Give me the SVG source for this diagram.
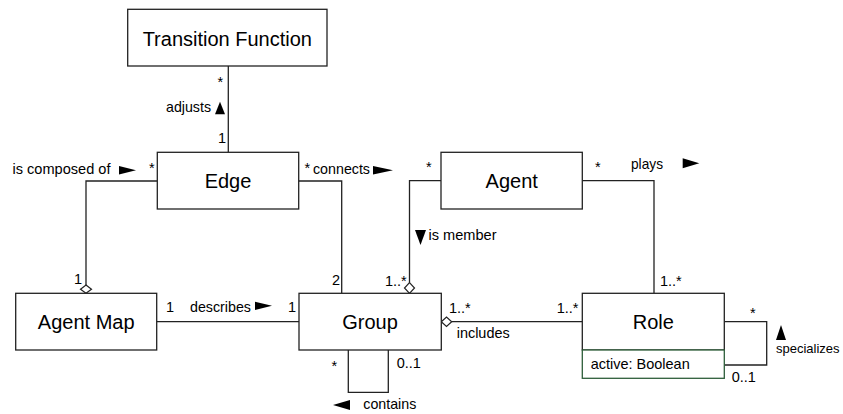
<svg xmlns="http://www.w3.org/2000/svg" width="843" height="414" viewBox="0 0 843 414">
<style>
.box{fill:#fff;stroke:#222;stroke-width:1.3}
.attr{fill:#fff;stroke:#2e5e3a;stroke-width:1.3}
.name{font-family:"Liberation Sans",Arial,sans-serif;font-size:20px;fill:#000;text-anchor:middle}
.lbl{font-family:"Liberation Sans",Arial,sans-serif;font-size:14.5px;fill:#000}
.ln{fill:none;stroke:#222;stroke-width:1.3}
.dia{fill:#fff;stroke:#222;stroke-width:1.2}
.tri{fill:#000}
</style>
<g id="connectors">
  <path class="ln" d="M228.3,66 V152.3"/>
  <path class="ln" d="M157.3,181 H86 V285"/>
  <path class="ln" d="M298.7,181 H341.7 V293.3"/>
  <path class="ln" d="M156.7,321.7 H299"/>
  <path class="ln" d="M441,180.7 H409.5 V282.7"/>
  <path class="ln" d="M582.3,180.7 H654 V293.3"/>
  <path class="ln" d="M451.7,321.7 H582.3"/>
  <path class="ln" d="M348.3,350 V392.3 H388.3 V350"/>
  <path class="ln" d="M724.3,321.7 H766.7 V365 H724.3"/>
  <polygon class="dia" points="86,285 91.5,289.2 86,293.3 80.5,289.2"/>
  <polygon class="dia" points="409.5,282.7 414.5,288 409.5,293.3 404.5,288"/>
  <polygon class="dia" points="441.3,321.7 446.5,317 451.7,321.7 446.5,326.4"/>
  <polygon class="tri" points="215,114.3 225,114.3 220,101.7"/>
  <polygon class="tri" points="119,166 119,174.5 136,170.2"/>
  <polygon class="tri" points="373,166 373,174.5 393,170.2"/>
  <polygon class="tri" points="255,301.7 255,310 272,305.8"/>
  <polygon class="tri" points="333,405 350,400 350,410"/>
  <polygon class="tri" points="415,230 426,230 420.5,245"/>
  <polygon class="tri" points="682.7,158.3 682.7,168.3 699.3,163.3"/>
  <polygon class="tri" points="776,340 786,340 781,325"/>
  <text class="lbl" x="217.5" y="87">*</text>
  <text class="lbl" x="166" y="112" textLength="45" lengthAdjust="spacingAndGlyphs">adjusts</text>
  <text class="lbl" x="218" y="143">1</text>
  <text class="lbl" x="12.5" y="174" textLength="98" lengthAdjust="spacingAndGlyphs">is composed of</text>
  <text class="lbl" x="149" y="173">*</text>
  <text class="lbl" x="304.5" y="173">*</text>
  <text class="lbl" x="313" y="174" textLength="57" lengthAdjust="spacingAndGlyphs">connects</text>
  <text class="lbl" x="74" y="284">1</text>
  <text class="lbl" x="166" y="312">1</text>
  <text class="lbl" x="190" y="312" textLength="61" lengthAdjust="spacingAndGlyphs">describes</text>
  <text class="lbl" x="288" y="312">1</text>
  <text class="lbl" x="332" y="285">2</text>
  <text class="lbl" x="385" y="286">1..*</text>
  <text class="lbl" x="426" y="172">*</text>
  <text class="lbl" x="428.5" y="240" textLength="68" lengthAdjust="spacingAndGlyphs">is member</text>
  <text class="lbl" x="595" y="172">*</text>
  <text class="lbl" x="631" y="169" textLength="32" lengthAdjust="spacingAndGlyphs">plays</text>
  <text class="lbl" x="660" y="286">1..*</text>
  <text class="lbl" x="331.5" y="371">*</text>
  <text class="lbl" x="396.7" y="368">0..1</text>
  <text class="lbl" x="363.3" y="409" textLength="53" lengthAdjust="spacingAndGlyphs">contains</text>
  <text class="lbl" x="449" y="313">1..*</text>
  <text class="lbl" x="456.7" y="338" textLength="53" lengthAdjust="spacingAndGlyphs">includes</text>
  <text class="lbl" x="556.7" y="313">1..*</text>
  <text class="lbl" x="750" y="318">*</text>
  <text class="lbl" x="776" y="352.7" style="font-size:13px">specializes</text>
  <text class="lbl" x="731.7" y="381.7">0..1</text>
</g>
<g id="transition-function">
  <rect class="box" x="127.7" y="9.3" width="199.3" height="56.7"/>
  <text class="name" x="227.3" y="46">Transition Function</text>
</g>
<g id="edge">
  <rect class="box" x="157.3" y="152.3" width="141.4" height="56.7"/>
  <text class="name" x="228" y="188">Edge</text>
</g>
<g id="agent">
  <rect class="box" x="441" y="152.3" width="141.3" height="56.7"/>
  <text class="name" x="511.7" y="188">Agent</text>
</g>
<g id="agent-map">
  <rect class="box" x="15.7" y="293.3" width="141" height="56.7"/>
  <text class="name" x="86.2" y="329">Agent Map</text>
</g>
<g id="group">
  <rect class="box" x="299" y="293.3" width="142.3" height="56.7"/>
  <text class="name" x="370" y="329">Group</text>
</g>
<g id="role">
  <rect class="box" x="582.3" y="293.3" width="142" height="56.7"/>
  <rect class="attr" x="582.3" y="350" width="142" height="28.3"/>
  <text class="name" x="653.3" y="329">Role</text>
  <text class="lbl" x="590.7" y="369.3" textLength="99" lengthAdjust="spacingAndGlyphs">active: Boolean</text>
</g>
</svg>
